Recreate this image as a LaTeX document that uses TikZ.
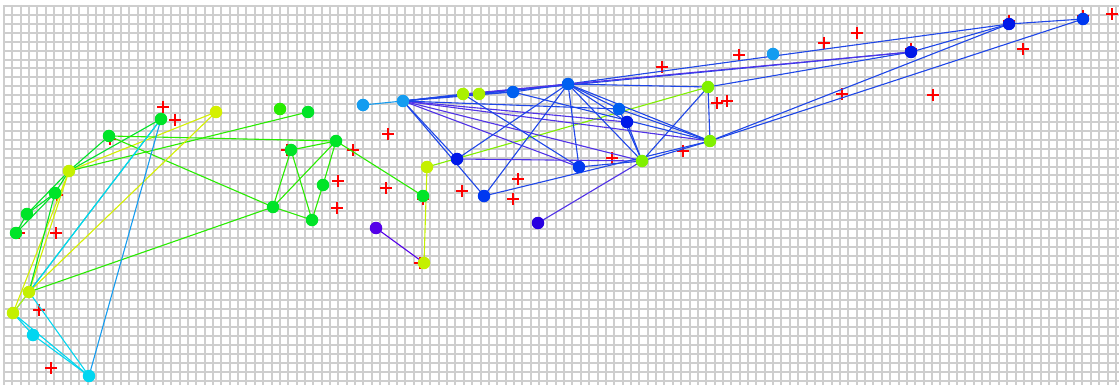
\documentclass[tikz,border=0pt]{standalone}
\begin{document}
\begin{tikzpicture}[x=1pt,y=-1pt,
  dot/.style={circle,fill=#1,draw=none,minimum size=12.5pt,inner sep=0pt},
  ed/.style={draw=#1,line width=1.1pt},
  crs/.style={red,line width=1.1pt}]
\definecolor{yel}{RGB}{212,240,0}
\definecolor{yg}{RGB}{196,240,0}
\definecolor{grn}{RGB}{0,228,40}
\definecolor{grm}{RGB}{40,236,0}
\definecolor{cya}{RGB}{0,214,240}
\definecolor{teal}{RGB}{20,200,170}
\definecolor{lb}{RGB}{20,156,240}
\definecolor{limeA}{RGB}{170,240,0}
\definecolor{limeB}{RGB}{128,240,0}
\definecolor{bA}{RGB}{0,96,240}
\definecolor{bB}{RGB}{0,56,240}
\definecolor{bC}{RGB}{0,24,232}
\definecolor{purA}{RGB}{84,0,232}
\definecolor{purB}{RGB}{40,0,224}
\definecolor{eb}{RGB}{30,70,232}
\definecolor{ep}{RGB}{80,50,232}
\definecolor{gridc}{RGB}{206,206,206}
\useasboundingbox (0,0) rectangle (1119,385);
\fill[white] (0,0) rectangle (1119,385);
% grid
\foreach \k in {0,...,133} {\pgfmathsetmacro{\gx}{round(4+8.36*\k)}
  \draw[gridc,line width=1.7pt] (\gx,5) -- (\gx,385);}
\foreach \k in {0,...,42} {\pgfmathsetmacro{\gy}{round(6+8.92*\k)}
  \draw[gridc,line width=1.7pt] (4,\gy) -- (1119,\gy);}
% red crosses
\foreach \p in {(163,107),(175,120),(56,233),(39,310),(51,368),(57,195),(19,233),(110,139),
  (388,134),(353,150),(338,181),(386,188),(337,208),(287,150),(423,199),(420,263),
  (462,191),(518,179),(513,199),(662,67),(717,103),(727,101),(612,158),(683,151),
  (739,55),(824,43),(857,33),(1112,14),(1023,49),(842,94),(933,95),(1009,21),(1083,16),(911,49)}
  \draw[crs] \p ++(-6,0) -- ++(12,0) \p ++(0,-6) -- ++(0,12);
% node positions
\path
 (216,112) coordinate (A1) (161,119) coordinate (A2) (109,136) coordinate (A3)
 (69,171) coordinate (A4) (55,193) coordinate (A5) (27,214) coordinate (A6)
 (16,233) coordinate (A7) (29,292) coordinate (A8) (13,313) coordinate (A9)
 (33,335) coordinate (A10) (89,376) coordinate (A11)
 (280,109) coordinate (M1) (308,112) coordinate (M2) (336,141) coordinate (M3)
 (291,150) coordinate (M4) (323,185) coordinate (M5) (273,207) coordinate (M6)
 (312,220) coordinate (M7) (427,167) coordinate (M8) (423,196) coordinate (M9)
 (376,228) coordinate (M10) (424,263) coordinate (M11)
 (363,105) coordinate (LB1) (403,101) coordinate (LB2) (773,54) coordinate (LB3)
 (463,94) coordinate (Y1) (479,94) coordinate (Y2) (513,92) coordinate (B1)
 (568,84) coordinate (H) (619,109) coordinate (B2) (627,122) coordinate (B3)
 (708,87) coordinate (G1) (710,141) coordinate (G2) (642,161) coordinate (G3)
 (579,167) coordinate (B4) (457,159) coordinate (B5) (484,196) coordinate (B6)
 (538,223) coordinate (P2) (911,52) coordinate (D1) (1009,24) coordinate (D2)
 (1083,19) coordinate (D3);
% edges left and middle
\foreach \a/\b/\c in {A3/A4/grn,A4/A5/grn,A5/A6/grn,A6/A7/grn,A4/A6/grn,A5/A7/grn,
  A4/A1/yel,A4/A2/grn,A4/M2/grm,A3/M3/grm,A3/M6/grm,A8/M6/grm,A8/A1/yel,A8/A2/teal,
  A9/A2/cya,A11/A2/lb,A8/A4/yel,A9/A4/yel,A8/A5/grn,A8/A9/yg,A9/A10/cya,A10/A11/cya,
  A8/A11/cya,A9/A11/cya,
  M6/M4/grm,M4/M7/grm,M6/M3/grm,M4/M3/grm,M3/M5/grm,M5/M7/grm,M6/M7/grm,M3/M9/grm,
  M8/M11/yg,M8/G1/limeB,M10/M11/purA,LB1/LB2/lb}
  \draw[ed=\c] (\a) -- (\b);
% edges blue cluster
\foreach \a/\b/\c in {LB2/Y1/eb,LB2/B1/eb,LB2/H/eb,LB2/B3/ep,LB2/G3/ep,LB2/G2/ep,LB2/B4/ep,
  LB2/B5/eb,LB2/B6/eb,LB2/B2/eb,LB2/D1/eb,Y1/B4/eb,Y2/B1/eb,B1/H/eb,B1/G2/eb,H/B6/eb,H/B5/eb,
  H/B4/eb,H/G3/eb,H/G1/eb,H/B2/eb,H/B3/eb,H/G2/eb,G1/G3/eb,G1/G2/eb,G2/G3/eb,B3/G3/eb,
  B2/G3/eb,B2/G2/eb,B4/G3/eb,B5/G3/ep,B6/G2/eb,P2/G3/ep,G1/D1/eb,G2/D2/eb,G2/D3/eb,
  D1/D2/eb,D2/D3/eb,H/D2/eb,Y1/D1/ep}
  \draw[ed=\c] (\a) -- (\b);
% dots
\foreach \n/\c in {A1/yel,A2/grn,A3/grn,A4/yg,A5/grn,A6/grn,A7/grn,A8/yg,A9/yg,A10/cya,A11/cya,
  M1/grm,M2/grn,M3/grn,M4/grn,M5/grn,M6/grn,M7/grn,M8/yg,M9/grn,M10/purA,M11/yg,
  LB1/lb,LB2/lb,LB3/lb,Y1/limeA,Y2/limeA,B1/bA,H/bA,B2/bA,B3/bC,G1/limeB,G2/limeB,G3/limeB,
  B4/bB,B5/bC,B6/bB,P2/purB,D1/bC,D2/bC,D3/bB}
  \node[dot=\c] (n\n) at (\n) {};
\end{tikzpicture}
\end{document}
